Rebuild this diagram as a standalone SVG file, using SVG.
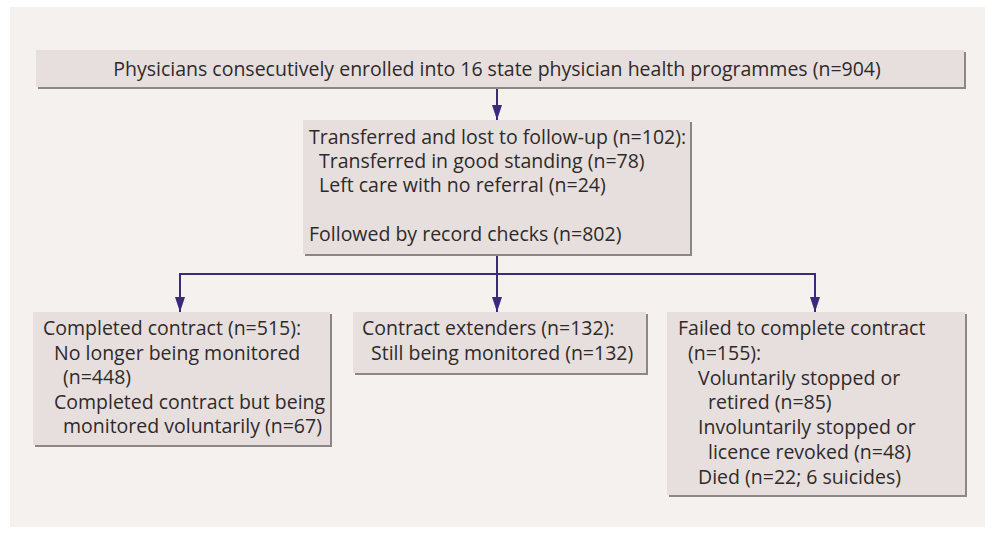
<svg xmlns="http://www.w3.org/2000/svg" width="995" height="536" viewBox="0 0 995 536">
<style>
.bg{fill:#f4f1ef}
.box{fill:#e6dfde}
.sh{fill:#8c8685}
text{font-family:"Open Sans","Liberation Sans",sans-serif;font-size:19.5px;fill:#2f2a2a}
.c{stroke:#3a2a78;stroke-width:2;fill:none}
</style>
<defs>
<marker id="a" markerWidth="15" markerHeight="10" refX="15" refY="5" orient="auto" markerUnits="userSpaceOnUse">
<path d="M0,0 L15,5 L0,10 Z" fill="#3a2a78"/>
</marker>
</defs>
<rect width="995" height="536" fill="#ffffff"/>
<rect class="bg" x="10" y="7" width="975" height="520"/>
<g id="connectors">
<line class="c" x1="497" y1="89" x2="497" y2="120" marker-end="url(#a)"/>
<line class="c" x1="497" y1="256" x2="497" y2="312" marker-end="url(#a)"/>
<polyline class="c" points="180,312 180,274 815,274 815,312" marker-end="url(#a)"/>
<line class="c" x1="180" y1="274" x2="180" y2="312" marker-end="url(#a)"/>
</g>
<g id="n1">
<rect class="sh" x="38" y="52" width="928" height="37"/>
<rect class="box" x="36" y="50" width="928" height="37"/>
<text x="497" y="76" text-anchor="middle">Physicians consecutively enrolled into 16 state physician health programmes (n=904)</text>
</g>
<g id="n2">
<rect class="sh" x="305" y="122" width="387" height="134"/>
<rect class="box" x="303" y="120" width="387" height="134"/>
<text x="309" y="144">Transferred and lost to follow-up (n=102):</text>
<text x="319" y="168">Transferred in good standing (n=78)</text>
<text x="319" y="192">Left care with no referral (n=24)</text>
<text x="309" y="241">Followed by record checks (n=802)</text>
</g>
<g id="n3">
<rect class="sh" x="35" y="314" width="297" height="133"/>
<rect class="box" x="33" y="312" width="297" height="133"/>
<text x="43" y="335">Completed contract (n=515):</text>
<text x="54" y="360">No longer being monitored</text>
<text x="63" y="384">(n=448)</text>
<text x="54" y="409">Completed contract but being</text>
<text x="63" y="433">monitored voluntarily (n=67)</text>
</g>
<g id="n4">
<rect class="sh" x="355" y="314" width="293" height="61"/>
<rect class="box" x="353" y="312" width="293" height="61"/>
<text x="362" y="335">Contract extenders (n=132):</text>
<text x="371" y="360">Still being monitored (n=132)</text>
</g>
<g id="n5">
<rect class="sh" x="669" y="314" width="298" height="183"/>
<rect class="box" x="667" y="312" width="298" height="183"/>
<text x="678" y="335">Failed to complete contract</text>
<text x="688" y="360">(n=155):</text>
<text x="698" y="385">Voluntarily stopped or</text>
<text x="708" y="409">retired (n=85)</text>
<text x="698" y="434">Involuntarily stopped or</text>
<text x="708" y="459">licence revoked (n=48)</text>
<text x="698" y="484">Died (n=22; 6 suicides)</text>
</g>
</svg>
